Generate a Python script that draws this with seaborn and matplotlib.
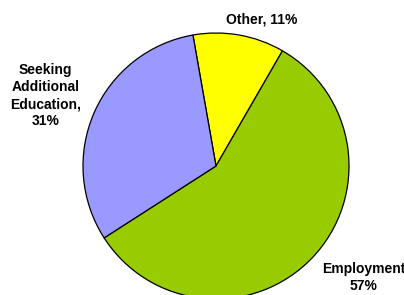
import matplotlib
matplotlib.use("Agg")
import matplotlib.pyplot as plt
import seaborn as sns

# slice data, clockwise from the top
categories = ["Other", "Employment", "Seeking\nAdditional\nEducation"]
shares = [11, 57, 31]
label_texts = ["Other, 11%", "Employment\n57%", "Seeking\nAdditional\nEducation,\n31%"]
colors = ["#FFFF00", "#99CC00", "#9999FF"]

# label centres in pie units (radius = 1)
label_pos = [(0.34, 1.105), (1.11, -0.84), (-1.28, 0.53)]

sns.set_theme(style="white")
plt.rcParams["font.family"] = ["Liberation Sans", "DejaVu Sans"]

fig = plt.figure(figsize=(4.04, 2.95), dpi=100)
ax = fig.add_axes([0, 0, 1, 1])

ax.pie(shares, colors=colors, startangle=100, counterclock=False,
       radius=1, wedgeprops=dict(edgecolor="black", linewidth=0.9))

for txt, (x, y) in zip(label_texts, label_pos):
    ax.text(x, y, txt, ha="center", va="center", fontsize=10,
            fontweight="bold", color="black", linespacing=1.3)

ax.set_xlim(-216 / 133, 188 / 133)
ax.set_ylim(-129 / 133, 166 / 133)
ax.set_aspect("auto")
ax.axis("off")

fig.savefig("out.png", dpi=100, facecolor="white")
